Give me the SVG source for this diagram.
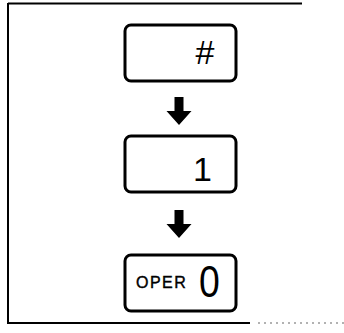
<svg xmlns="http://www.w3.org/2000/svg" width="344" height="333" viewBox="0 0 344 333">
<style>
.box{fill:#fff;stroke:#000;stroke-width:3}
.frame{stroke:#000;stroke-width:2;fill:none}
.t{font-family:"Liberation Sans",Arial,sans-serif;fill:#000}
</style>
<defs>
<path id="arrow" d="M-4.5,0 H4.5 V14 H12.5 L0,28 L-12.5,14 H-4.5 Z" fill="#000"/>
</defs>
<rect width="344" height="333" fill="#fff"/>
<g id="frame">
<line class="frame" x1="8" y1="3" x2="8" y2="324"/>
<line class="frame" x1="8" y1="3.5" x2="302" y2="3.5"/>
<line class="frame" x1="8" y1="323" x2="250" y2="323"/>
<line x1="258" y1="323" x2="344" y2="323" stroke="#000" stroke-width="1" stroke-dasharray="2,4" opacity="0.6"/>
</g>
<g id="connectors">
<use href="#arrow" x="179" y="97"/>
<use href="#arrow" x="179" y="210"/>
</g>
<g id="node-hash">
<rect class="box" x="125" y="25" width="111" height="56" rx="6"/>
<text class="t" x="205" y="64" font-size="34" text-anchor="middle">#</text>
</g>
<g id="node-one">
<rect class="box" x="125" y="136" width="111" height="56" rx="6"/>
<text class="t" x="212" y="181" font-size="34" text-anchor="end">1</text>
</g>
<g id="node-oper">
<rect class="box" x="125" y="255" width="111" height="56" rx="6"/>
<text class="t" x="136" y="288" font-size="16" letter-spacing="1.5" stroke="#000" stroke-width="0.4">OPER</text>
<text class="t" x="209.5" y="297" font-size="44" text-anchor="middle" transform="translate(209.5 0) scale(0.85 1) translate(-209.5 0)">0</text>
</g>
</svg>
